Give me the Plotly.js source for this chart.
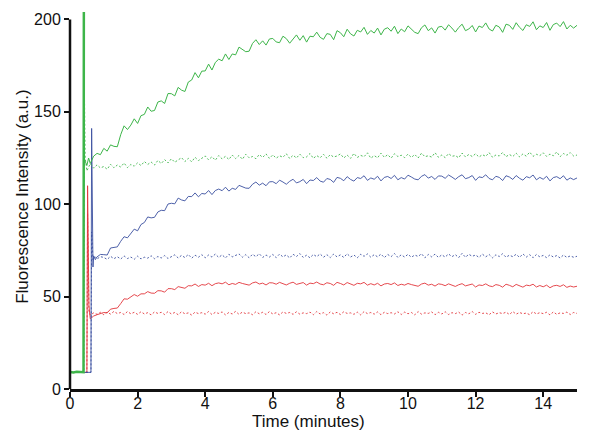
<!DOCTYPE html>
<html>
<head>
<meta charset="utf-8">
<script src="https://cdn.plot.ly/plotly-3.0.1.min.js"></script>
<style>
  html, body { margin: 0; padding: 0; background: #fff; }
  #grafico { width: 600px; height: 439px; }
</style>
</head>
<body>
<div id="grafico"></div>
<script>
// start of each trace (baseline, injection spike)
let verdeHeadT = [0, 0.1, 0.2, 0.3, 0.4, 0.41, 0.43, 0.5, 0.55, 0.6, 0.65, 0.7, 0.8, 0.9];
let verdeHeadY = [9.2, 8.9, 9.3, 9.0, 9.1, 212, 124, 121, 125, 122, 124, 126, 127.5, 126.8];
let verdePontHeadT = [0, 0.41, 0.42, 0.45, 0.5, 0.6, 0.7, 0.8, 0.9];
let verdePontHeadY = [9, 9, 171, 125, 118, 122, 119.5, 121.3, 119.6];
let azulHeadT = [0, 0.62, 0.64, 0.66, 0.68, 0.7, 0.75, 0.8, 0.9];
let azulHeadY = [9, 9, 141, 84, 66, 72, 70, 71.5, 72.8];
let azulPontHeadT = [0, 0.62, 0.64, 0.68, 0.75, 0.8, 0.9];
let azulPontHeadY = [9, 9, 85, 70, 71.5, 70.4, 71.6];
let vermHeadT = [0, 0.5, 0.52, 0.56, 0.6, 0.7, 0.8, 0.9];
let vermHeadY = [9, 9, 110, 45, 38, 39.5, 40.2, 40.8];
let vermPontHeadT = [0, 0.5, 0.52, 0.56, 0.6, 0.7, 0.8, 0.9];
let vermPontHeadY = [9, 9, 95, 42, 40, 41.2, 40.4, 41.5];

// readings every 0.1 min from t = 1.0 to 15.0
let verde = [
  130.2,128.7,132.1,131.3,131.1,137.6,142.4,140.4,142.8,146.2,
  143.7,147.9,148.6,152.6,150.3,150.7,155.3,155.9,154.5,159.9,
  159.8,158.6,163.2,161.7,161.0,166.1,167.2,171.2,168.4,172.0,
  172.1,175.8,172.6,176.7,178.5,177.6,181.3,178.3,181.3,180.8,
  185.0,183.9,182.5,182.8,187.0,189.0,186.4,188.4,186.1,189.4,
  189.7,187.8,187.4,190.9,189.6,187.1,189.3,191.6,188.7,191.2,
  187.7,190.9,190.6,193.1,190.3,189.2,192.3,191.9,189.0,193.9,
  192.8,190.6,194.7,192.2,191.0,194.1,193.2,195.7,191.9,194.0,
  192.6,195.3,191.6,194.7,195.5,193.6,196.3,192.3,194.8,193.3,
  196.5,194.9,193.0,192.3,195.5,197.0,193.9,195.4,192.6,195.9,
  196.2,194.2,197.1,195.3,193.1,195.6,197.4,193.9,194.8,196.7,
  193.2,196.4,195.6,198.1,194.8,193.7,196.8,195.9,193.0,197.4,
  196.8,194.6,198.2,195.7,194.0,197.1,196.2,198.7,194.4,196.5,
  195.6,198.3,194.1,197.2,198.0,196.1,198.8,194.8,196.8,195.3,
  196.8
];
let verdePont = [
  120.4,118.9,121.6,119.7,121.2,120.1,122.3,119.8,121.5,120.6,
  122.4,120.9,123.1,121.5,122.8,121.2,123.7,122.0,124.1,122.3,
  124.6,122.7,123.9,125.2,123.1,124.8,122.9,125.4,123.6,124.9,
  126.1,124.0,125.7,123.8,126.3,124.5,125.9,124.2,126.6,124.7,
  126.4,124.3,127.0,125.1,125.8,124.6,126.9,125.3,127.2,124.8,
  126.7,124.9,126.2,125.4,127.3,124.7,126.5,125.0,127.1,125.2,
  125.6,127.4,124.8,126.3,125.1,127.0,124.9,126.8,125.5,126.1,
  127.2,125.0,126.6,124.8,127.5,125.3,126.4,125.7,127.8,124.9,
  126.3,125.1,127.6,125.4,126.8,124.9,127.3,125.8,126.5,125.2,
  127.1,125.3,126.9,125.0,127.6,125.7,126.2,125.5,127.9,125.4,
  126.6,125.2,127.4,125.9,126.3,125.1,127.7,125.6,126.9,125.8,
  127.3,125.5,126.8,125.9,127.9,125.4,126.6,126.1,128.0,125.7,
  126.9,125.8,127.6,125.6,127.2,126.0,128.2,125.9,127.0,126.3,
  127.8,125.9,127.1,126.2,128.3,125.7,127.4,126.5,127.9,126.1,
  126.6
];
let azul = [
  72.7,72.5,76.3,76.7,76.9,79.9,82.4,81.8,83.9,86.5,
  85.6,89.0,90.1,93.1,92.6,92.9,95.8,96.7,96.5,100.1,
  100.5,100.2,103.3,102.3,101.8,104.2,104.1,106.1,104.0,105.8,
  105.5,107.4,105.2,107.4,108.2,107.3,109.2,107.1,108.6,108.0,
  110.2,109.5,108.7,108.6,110.8,112.0,110.3,111.4,110.0,112.1,
  112.2,111.1,113.0,112.0,110.8,112.4,113.5,111.5,112.2,113.4,
  111.1,113.1,112.8,114.4,112.5,111.9,113.9,113.4,111.8,114.5,
  114.0,112.7,114.9,113.4,112.5,114.4,113.9,115.4,112.9,114.2,
  113.5,115.1,112.6,114.5,115.0,113.9,115.6,113.2,114.4,113.6,
  115.7,114.7,113.6,113.2,115.1,116.0,114.1,115.0,113.4,115.3,
  115.2,114.0,115.8,114.7,113.4,114.9,115.9,113.8,114.4,115.5,
  112.9,114.8,114.4,115.9,113.9,113.2,115.1,114.5,112.8,115.4,
  114.7,113.4,115.5,114.0,113.0,114.9,114.3,115.8,113.2,114.5,
  113.5,115.1,112.6,114.4,114.9,113.8,115.4,113.0,114.2,113.3,
  114.2
];
let azulPont = [
  71.2,70.1,71.8,70.5,71.6,70.3,72.0,70.6,71.4,70.2,
  71.9,70.4,71.3,70.8,72.1,70.5,71.7,70.9,72.2,70.6,
  71.5,72.6,70.9,72.3,71.1,72.8,70.8,72.4,71.3,72.7,
  71.0,72.5,71.4,73.0,71.2,72.6,70.9,72.9,71.5,72.4,
  73.1,71.3,72.7,71.0,72.9,71.6,73.2,71.2,72.5,71.4,
  72.8,71.1,73.0,71.5,72.6,70.9,72.9,71.7,73.3,71.2,
  72.4,71.0,72.8,71.6,73.1,71.3,72.7,71.1,73.0,71.5,
  72.6,71.2,73.2,71.4,72.5,71.0,72.9,71.8,73.1,71.3,
  72.7,71.5,73.0,71.1,72.8,71.6,73.3,71.2,72.6,71.4,
  72.9,71.3,72.5,71.7,73.2,71.0,72.8,71.5,73.0,71.2,
  72.6,71.4,73.1,71.6,72.7,71.1,73.4,71.3,72.9,71.8,
  72.5,71.2,73.0,71.5,72.8,71.0,72.6,71.7,73.2,71.3,
  72.4,71.6,72.9,71.2,73.1,71.4,72.7,71.0,72.8,71.5,
  72.3,71.1,72.6,71.4,72.2,70.9,72.5,71.2,72.0,71.3,
  71.8
];
let verm = [
  41.4,41.2,43.2,43.6,43.8,46.2,48.8,48.6,49.9,51.1,
  50.2,51.5,51.5,52.7,51.9,51.8,53.2,53.1,52.4,54.3,
  54.3,53.8,55.4,54.8,54.5,55.9,55.8,56.8,55.5,56.5,
  56.2,57.2,55.9,57.0,57.4,56.9,57.8,56.4,57.1,56.6,
  57.7,57.1,56.5,56.2,57.4,57.9,56.8,57.3,56.3,57.5,
  57.4,56.7,57.7,57.1,56.3,57.2,57.8,56.6,56.9,57.6,
  56.2,57.3,57.0,57.9,56.8,56.4,57.5,57.1,56.1,57.7,
  57.1,56.3,57.6,56.7,56.1,57.2,56.9,57.7,56.2,57.0,
  56.3,57.2,55.8,56.8,57.1,56.5,57.4,56.0,56.7,56.2,
  57.1,56.5,55.9,55.6,56.8,57.3,56.2,56.7,55.7,56.9,
  56.6,55.9,56.9,56.3,55.5,56.4,57.0,55.8,56.1,56.8,
  55.2,56.3,56.0,56.9,55.8,55.4,56.5,56.1,55.1,56.7,
  56.1,55.3,56.6,55.7,55.1,56.2,55.9,56.7,55.2,56.0,
  55.3,56.2,54.8,55.8,56.1,55.5,56.4,55.0,55.7,55.2,
  55.6
];
let vermPont = [
  40.2,41.6,40.5,42.0,40.8,41.4,40.3,41.9,40.7,41.5,
  40.4,41.8,40.6,41.3,40.1,41.7,40.9,41.5,40.3,41.9,
  40.6,41.4,40.2,41.8,40.7,41.2,40.0,41.6,40.8,41.3,
  40.5,41.9,40.3,41.5,40.9,41.7,40.1,41.4,40.6,42.0,
  40.4,41.6,40.8,41.2,40.2,41.8,40.7,41.5,40.3,41.9,
  40.6,41.3,40.1,41.7,40.9,41.4,40.4,41.8,40.5,41.2,
  40.8,41.6,40.2,41.9,40.6,41.3,40.0,41.7,40.7,41.5,
  40.3,41.8,40.9,41.2,40.4,41.6,40.1,41.9,40.8,41.4,
  40.5,41.7,40.2,41.5,40.8,41.3,40.6,41.8,40.3,41.6,
  40.7,41.4,40.1,41.9,40.5,41.2,40.9,41.7,40.2,41.5,
  40.6,41.8,40.3,41.3,40.8,41.6,40.0,41.4,40.7,41.9,
  40.4,41.5,40.9,41.2,40.2,41.7,40.6,41.3,40.8,41.6,
  40.3,41.9,40.5,41.4,40.7,41.1,40.2,41.8,40.6,41.3,
  40.8,41.5,40.1,41.7,40.4,41.2,40.9,41.6,40.3,41.4,
  40.9
];

// time axis of the readings (0.1 min sampling)
let tempos = [];
for (let i = 0; i < verde.length; i++) tempos.push(+(1.0 + i * 0.1).toFixed(1));

const VERDE = '#3db549';
const AZUL = '#3a4f9f';
const VERM = '#e2343a';

function serie(headT, headY, corpo, cor, pontilhado, largura) {
    return {
        x: headT.concat(tempos),
        y: headY.concat(corpo),
        mode: 'lines',
        line: { color: cor, width: largura, dash: pontilhado ? '2px,2px' : 'solid' },
        showlegend: false,
        hoverinfo: 'skip'
    };
}

let traces = [
    serie(vermPontHeadT, vermPontHeadY, vermPont, VERM, true, 0.9),
    serie(vermHeadT, vermHeadY, verm, VERM, false, 0.9),
    serie(azulPontHeadT, azulPontHeadY, azulPont, AZUL, true, 0.9),
    serie(azulHeadT, azulHeadY, azul, AZUL, false, 0.9),
    serie(verdePontHeadT, verdePontHeadY, verdePont, VERDE, true, 0.9),
    serie(verdeHeadT, verdeHeadY, verde, VERDE, false, 1)
];
// thick green injection step
traces.push({
    x: verdeHeadT.slice(0, 6), y: verdeHeadY.slice(0, 6),
    mode: 'lines', line: { color: VERDE, width: 2.5 },
    showlegend: false, hoverinfo: 'skip'
});

let familia = 'Liberation Sans, Arial, sans-serif';
let fonteTick = { family: familia, size: 16, color: '#111' };
let fonteTitulo = { family: familia, size: 17, color: '#111' };

let layout = {
    width: 600,
    height: 439,
    margin: { l: 70, r: 23, t: 12, b: 50 },
    paper_bgcolor: '#fff',
    plot_bgcolor: '#fff',
    font: fonteTick,
    xaxis: {
        range: [0, 15],
        tickvals: [0, 2, 4, 6, 8, 10, 12, 14],
        showgrid: false, zeroline: false,
        showline: true, linecolor: '#111', linewidth: 2.5,
        ticks: 'outside', ticklen: 5, tickwidth: 2, tickcolor: '#111',
        ticklabelstandoff: -7,
        tickfont: fonteTick
    },
    yaxis: {
        range: [0, 204],
        tickvals: [0, 50, 100, 150, 200],
        showgrid: false, zeroline: false, showline: false,
        ticks: 'outside', ticklen: 5, tickwidth: 2, tickcolor: '#111',
        tickfont: fonteTick
    },
    shapes: [{
        type: 'line', xref: 'paper', yref: 'y',
        x0: 0, x1: 0, y0: 0, y1: 200,
        line: { color: '#111', width: 2.5 }
    }],
    annotations: [{
        text: 'Time (minutes)', showarrow: false,
        xref: 'paper', yref: 'paper', x: 0.471, y: 0, yshift: -32,
        xanchor: 'center', yanchor: 'middle',
        font: fonteTitulo
    }, {
        text: 'Fluorescence Intensity (a.u.)', showarrow: false, textangle: -90,
        xref: 'paper', yref: 'y', x: 0, y: 104, xshift: -47,
        xanchor: 'center', yanchor: 'middle',
        font: fonteTitulo
    }]
};

Plotly.newPlot('grafico', traces, layout, { staticPlot: true });
</script>
</body>
</html>
